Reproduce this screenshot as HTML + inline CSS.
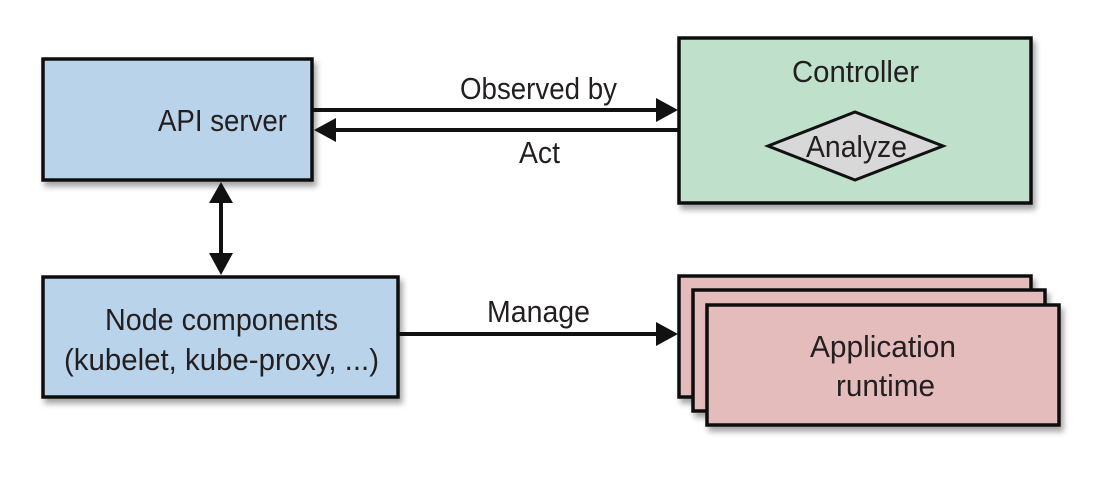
<!DOCTYPE html>
<html><head><meta charset="utf-8"><style>
html,body{margin:0;padding:0;background:#fff;}
svg text{font-family:"Liberation Sans Narrow","Liberation Sans",sans-serif;font-size:31px;fill:#231f20;}
</style></head><body>
<svg width="1118" height="482" viewBox="0 0 1118 482" xmlns="http://www.w3.org/2000/svg">
<defs>
<filter id="sh" x="-10%" y="-10%" width="130%" height="140%"><feDropShadow dx="3" dy="5" stdDeviation="3" flood-color="#000" flood-opacity="0.35"/></filter>
</defs>
<rect x="43" y="59" width="269" height="121" fill="#b9d3ea" stroke="#111" stroke-width="3.5" filter="url(#sh)"/>
<text x="158" y="131" textLength="129" lengthAdjust="spacingAndGlyphs">API server</text>
<rect x="679" y="38" width="352" height="165" fill="#bfe1cb" stroke="#111" stroke-width="3.5" filter="url(#sh)"/>
<text x="792" y="82" textLength="127" lengthAdjust="spacingAndGlyphs">Controller</text>
<polygon points="768,146 855,112 943,146 855,180" fill="#d8d8d8" stroke="#111" stroke-width="3"/>
<text x="806" y="157" textLength="101" lengthAdjust="spacingAndGlyphs">Analyze</text>
<rect x="43" y="277" width="355" height="120" fill="#b9d3ea" stroke="#111" stroke-width="3.5" filter="url(#sh)"/>
<text x="105" y="330" textLength="233" lengthAdjust="spacingAndGlyphs">Node components</text>
<text x="64" y="370" textLength="315" lengthAdjust="spacingAndGlyphs">(kubelet, kube-proxy, ...)</text>
<rect x="679" y="276" width="352" height="121" fill="#e5bcbc" stroke="#111" stroke-width="3.5" filter="url(#sh)"/>
<rect x="693" y="290" width="352" height="121" fill="#e5bcbc" stroke="#111" stroke-width="3.5" filter="url(#sh)"/>
<rect x="707" y="305" width="352" height="120" fill="#e5bcbc" stroke="#111" stroke-width="3.5" filter="url(#sh)"/>
<text x="810" y="357" textLength="146" lengthAdjust="spacingAndGlyphs">Application</text>
<text x="836" y="396" textLength="99" lengthAdjust="spacingAndGlyphs">runtime</text>
<line x1="313" y1="110" x2="660" y2="110" stroke="#111" stroke-width="4"/>
<polygon points="656,98 678,110 656,122" fill="#111"/>
<line x1="334" y1="130" x2="678" y2="130" stroke="#111" stroke-width="4"/>
<polygon points="336,118 314,130 336,142" fill="#111"/>
<text x="460" y="99" textLength="157" lengthAdjust="spacingAndGlyphs">Observed by</text>
<text x="519" y="163" textLength="41" lengthAdjust="spacingAndGlyphs">Act</text>
<line x1="221" y1="200" x2="221" y2="256" stroke="#111" stroke-width="4"/>
<polygon points="209,203 221,182 233,203" fill="#111"/>
<polygon points="209,253 221,275 233,253" fill="#111"/>
<line x1="399" y1="334" x2="660" y2="334" stroke="#111" stroke-width="4"/>
<polygon points="656,322 678,334 656,346" fill="#111"/>
<text x="487" y="322" textLength="103" lengthAdjust="spacingAndGlyphs">Manage</text>
</svg>
</body></html>
